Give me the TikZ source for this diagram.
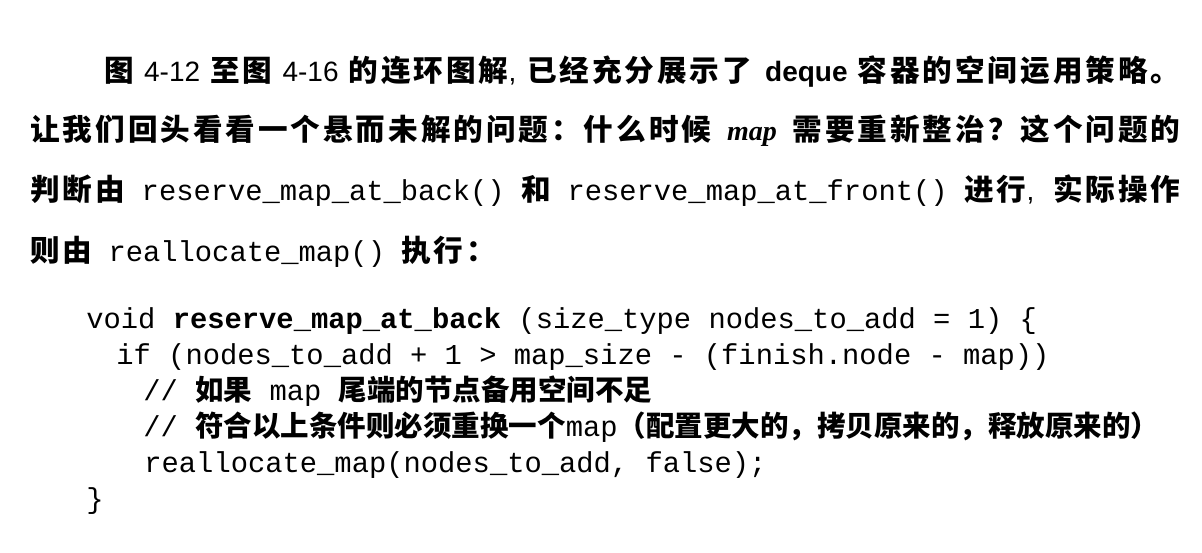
\documentclass[tikz,border=0pt]{standalone}
\usepackage{fontspec}
\setmainfont{Liberation Sans}
\setmonofont{Liberation Mono}
\newfontfamily\cjk[LetterSpace=10]{Noto Sans CJK SC}
\newfontfamily\cjkcode{Noto Sans CJK SC}
\newfontfamily\timesit{Liberation Serif}
\newcommand\zh[1]{{\cjk\bfseries\fontsize{14.8pt}{14.8pt}\selectfont#1}}
\newcommand\zhc[1]{{\cjkcode\bfseries\fontsize{14.25pt}{14.25pt}\selectfont#1}}
\newcommand\tto[1]{{\ttfamily\fontsize{14.4pt}{14.4pt}\selectfont#1}}
\begin{document}
\begin{tikzpicture}[x=0.5pt,y=-0.5pt,
  txt/.style={anchor=base west,inner sep=0pt,font=\fontsize{14pt}{14pt}\selectfont},
  code/.style={anchor=base west,inner sep=0pt,font=\fontsize{14.4pt}{14.4pt}\ttfamily}]
\useasboundingbox[fill=white](0,0)rectangle(1202,552);
% running text
\node[txt](l1)at(104,81){\makebox[538pt][s]{\zh{图} 4-12 \zh{至图} 4-16 \zh{的连环图解}, \zh{已经充分展示了} \textbf{deque} \zh{容器的空间运用策略。}}};
\node[txt](l2)at(30,140){\makebox[575pt][s]{\zh{让我们回头看看一个悬而未解的问题：什么时候} {\timesit\bfseries\itshape map} \zh{需要重新整治？这个问题的}}};
\node[txt](l3)at(30,200){\makebox[575pt][s]{\zh{判断由} \tto{reserve\_map\_at\_back()} \zh{和} \tto{reserve\_map\_at\_front()} \zh{进行}, \zh{实际操作}}};
\node[txt](l4)at(30,261){\zh{则由}\hspace{8pt}\tto{reallocate\_map()}\hspace{8pt}\zh{执行：}};
% code
\node[code](c1)at(86,328){void \textbf{reserve\_map\_at\_back} (size\_type nodes\_to\_add = 1) \{};
\node[code](c2)at(116,364){if (nodes\_to\_add + 1 > map\_size - (finish.node - map))};
\node[code](c3)at(143,400){// \zhc{如果} map \zhc{尾端的节点备用空间不足}};
\node[code](c4)at(143,436){// \zhc{符合以上条件则必须重换一个}map\zhc{（配置更大的，拷贝原来的，释放原来的）}};
\node[code](c5)at(144,472){reallocate\_map(nodes\_to\_add, false);};
\node[code](c6)at(86,508){\}};
\end{tikzpicture}
\end{document}
